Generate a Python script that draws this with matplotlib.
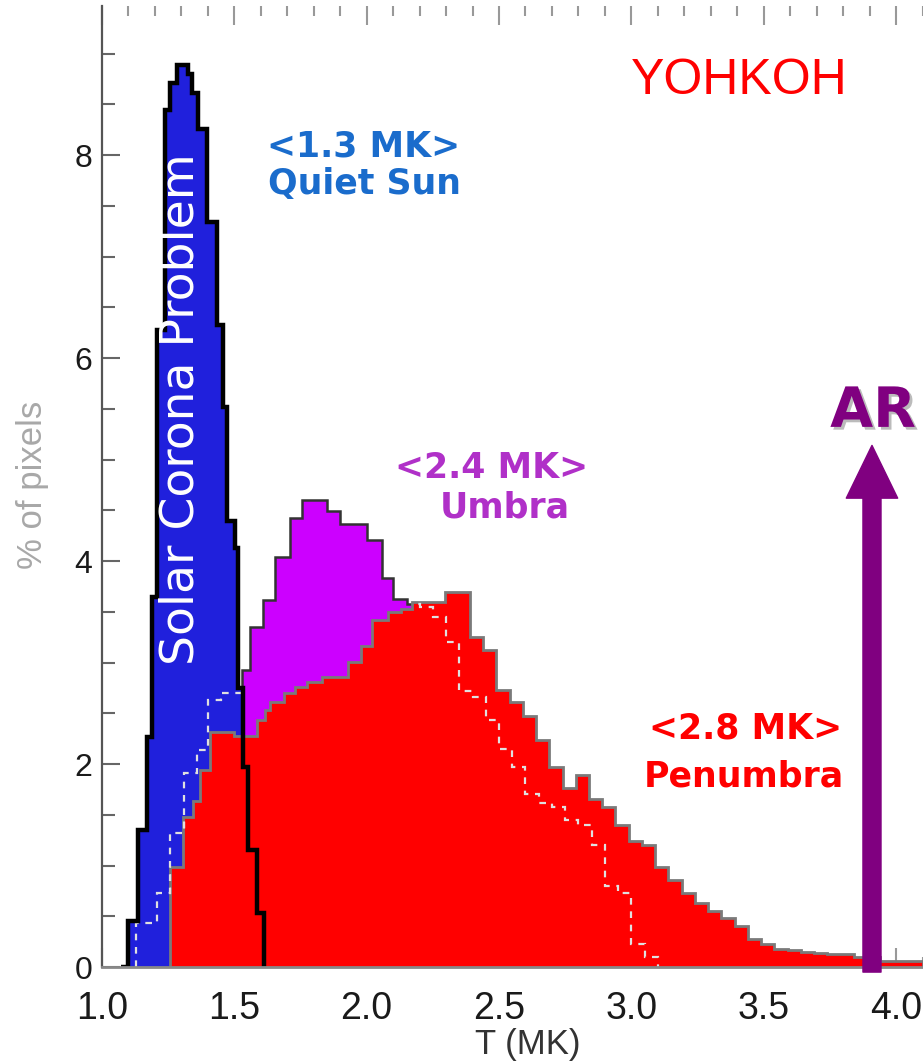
import matplotlib
matplotlib.use("Agg")
import matplotlib.pyplot as plt
import matplotlib.patheffects as pe
from matplotlib.patches import FancyArrowPatch
from matplotlib.ticker import MultipleLocator

# --- data (T in MK, % of pixels) ---
qs_edges = [1.07, 1.10, 1.136, 1.169, 1.188, 1.207, 1.238, 1.257, 1.282, 1.326, 1.339,
            1.364, 1.395, 1.433, 1.458, 1.471, 1.502, 1.515, 1.534, 1.553, 1.584, 1.612]
qs_pct = [0.0, 0.45, 1.35, 2.27, 3.65, 6.28, 8.44, 8.71, 8.89, 8.80,
          8.61, 8.26, 7.34, 6.33, 5.52, 4.39, 4.13, 2.75, 1.97, 1.15, 0.53]

umbra_edges = [1.13, 1.207, 1.257, 1.31, 1.36, 1.40, 1.45, 1.528, 1.559, 1.609, 1.654,
               1.71, 1.754, 1.849, 1.899, 2.0, 2.057, 2.10, 2.151, 2.201, 2.25, 2.30,
               2.35, 2.40, 2.45, 2.50, 2.55, 2.60, 2.65, 2.70, 2.75, 2.80, 2.85, 2.90,
               2.95, 3.00, 3.05, 3.10]
umbra_pct = [0.43, 0.73, 1.32, 1.91, 2.14, 2.63, 2.70, 2.93, 3.35, 3.62,
             4.04, 4.42, 4.60, 4.49, 4.37, 4.21, 3.83, 3.63, 3.58, 3.55,
             3.45, 3.20, 2.72, 2.66, 2.43, 2.15, 1.97, 1.70, 1.62, 1.58,
             1.45, 1.40, 1.20, 0.80, 0.73, 0.23, 0.10]

penumbra_edges = [1.257, 1.307, 1.345, 1.37, 1.408, 1.50, 1.585, 1.617, 1.636, 1.686,
                  1.73, 1.776, 1.83, 1.93, 1.98, 2.02, 2.08, 2.13, 2.17, 2.296, 2.39,
                  2.44, 2.49, 2.54, 2.59, 2.64, 2.69, 2.74, 2.79, 2.84, 2.89, 2.94,
                  2.99, 3.04, 3.09, 3.14, 3.19, 3.24, 3.29, 3.34, 3.39, 3.44, 3.49,
                  3.54, 3.59, 3.64, 3.69, 3.74, 3.84, 3.94, 4.10]
penumbra_pct = [0.99, 1.48, 1.64, 1.94, 2.32, 2.28, 2.43, 2.53, 2.61, 2.70,
                2.76, 2.81, 2.86, 3.01, 3.16, 3.42, 3.50, 3.53, 3.60, 3.70,
                3.25, 3.12, 2.73, 2.61, 2.47, 2.24, 1.97, 1.76, 1.89, 1.66,
                1.58, 1.40, 1.24, 1.20, 0.99, 0.86, 0.73, 0.63, 0.55, 0.48,
                0.40, 0.28, 0.23, 0.18, 0.17, 0.15, 0.14, 0.13, 0.10, 0.06]

x_ticks = [1.0, 1.5, 2.0, 2.5, 3.0, 3.5, 4.0]
y_ticks = [0, 2, 4, 6, 8]

BLUE = "#2020dc"
MAGENTA = "#cc00ff"
RED = "#ff0000"
PURPLE = "#800080"

fig = plt.figure(figsize=(9.23, 10.63), dpi=100)
ax = fig.add_axes([0.1105, 0.0903, 0.889, 0.9041])

# fills, back to front
ax.stairs(umbra_pct, umbra_edges, fill=True, color=MAGENTA, zorder=1)
ax.stairs(umbra_pct, umbra_edges, fill=False, color="#333333", lw=1.8, zorder=1.5)
qs_fill = ax.stairs(qs_pct, qs_edges, fill=True, color=BLUE, zorder=2)
pen_fill = ax.stairs(penumbra_pct, penumbra_edges, fill=True, color=RED, zorder=3)
ax.stairs(penumbra_pct, penumbra_edges, fill=False, color="#7a7a7a", lw=2.0, zorder=4)

# hidden part of the umbra histogram, shown dashed
for clip in (pen_fill, qs_fill):
    d = ax.stairs(umbra_pct, umbra_edges, fill=False, color="#e0e0e0", lw=1.6,
                  linestyle=(0, (3, 3)), zorder=4.5)
    d.set_clip_path(clip)

ax.stairs(qs_pct, qs_edges, fill=False, color="black", lw=3.2, zorder=5)

ax.set_xlim(1.0, 4.1)
ax.set_ylim(0, 9.47)
ax.set_xticks(x_ticks)
ax.set_xticklabels([f"{t:.1f}" for t in x_ticks])
ax.set_yticks(y_ticks)
ax.xaxis.set_minor_locator(MultipleLocator(0.1))
ax.yaxis.set_minor_locator(MultipleLocator(0.5))

for s in ("top", "right"):
    ax.spines[s].set_visible(False)
ax.spines["left"].set_color("#555555")
ax.spines["left"].set_linewidth(1.6)
ax.spines["bottom"].set_color("#888888")
ax.spines["bottom"].set_linewidth(2.0)
ax.spines["left"].set_zorder(6)
ax.spines["bottom"].set_zorder(6)

ax.tick_params(axis="x", which="both", direction="in", top=True, color="#999999",
               width=1.5, labelsize=27, pad=17, labelcolor="#1a1a1a")
ax.tick_params(axis="x", which="major", length=14)
ax.tick_params(axis="x", which="minor", length=7)
ax.tick_params(axis="y", which="both", direction="in", right=False, color="#666666",
               width=1.5, labelsize=23, pad=7, labelcolor="#1a1a1a")
ax.tick_params(axis="y", which="major", length=13)
ax.tick_params(axis="y", which="minor", length=9)
for lab in ax.get_xticklabels() + ax.get_yticklabels():
    lab.set_family("Liberation Sans")

fig.text(0.035, 1 - 485 / 1063, "% of pixels", rotation=90, ha="center", va="center",
         fontsize=25, color="#a8a8a8", family="Liberation Sans")
fig.text(528 / 923, 2 / 1063, "T (MK)", ha="center", va="bottom",
         fontsize=25, color="#333333", family="Liberation Sans")

# annotations
ax.text(3.406, 8.73, "YOHKOH", color=RED, fontsize=36, ha="center", va="center",
        family="Liberation Sans", zorder=7)
lab_kw = dict(ha="center", va="center", fontsize=25, fontweight="bold",
              family="DejaVu Sans", zorder=7)
ax.text(1.99, 8.09, "<1.3 MK>", color="#1a6ccc", **lab_kw)
ax.text(1.99, 7.72, "Quiet Sun", color="#1a6ccc", **lab_kw)
ax.text(2.47, 4.92, "<2.4 MK>", color="#b030c8", **lab_kw)
ax.text(2.52, 4.53, "Umbra", color="#b030c8", **lab_kw)
ax.text(3.433, 2.355, "<2.8 MK>", color=RED, **lab_kw)
ax.text(3.425, 1.88, "Penumbra", color=RED, **lab_kw)
ax.text(1.30, 5.5, "Solar Corona Problem", rotation=90, color="white", fontsize=34,
        fontweight="medium", ha="center", va="center", family="DejaVu Sans", zorder=7)

ax.text(3.913, 5.47, "AR", color=PURPLE, fontsize=40, fontweight="bold",
        ha="center", va="center", family="DejaVu Sans", zorder=8,
        path_effects=[pe.SimplePatchShadow(offset=(2, -2), shadow_rgbFace="#bbbbbb", alpha=1),
                      pe.Normal()])

arrow = FancyArrowPatch((3.909, -0.05), (3.909, 5.14),
                        arrowstyle="simple,head_length=3.8,head_width=3.7,tail_width=1.3",
                        mutation_scale=10, color=PURPLE, shrinkA=0, shrinkB=0,
                        zorder=8, clip_on=False)
ax.add_patch(arrow)

fig.savefig("out.png", dpi=100)
